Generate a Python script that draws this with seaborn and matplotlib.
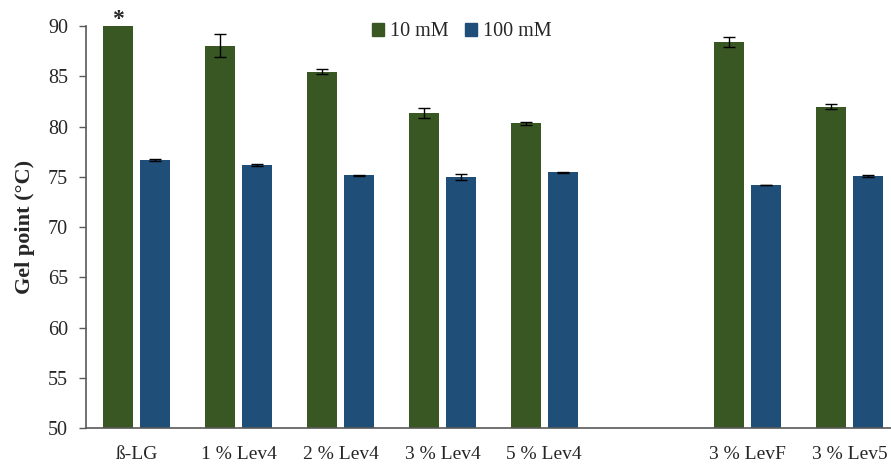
import numpy as np
import pandas as pd
import matplotlib
matplotlib.use("Agg")
import matplotlib.pyplot as plt
import seaborn as sns

# --- data ---
categories = ["ß-LG", "1 % Lev4", "2 % Lev4", "3 % Lev4", "5 % Lev4", "3 % LevF", "3 % Lev5"]
slots = ["ß-LG", "1 % Lev4", "2 % Lev4", "3 % Lev4", "5 % Lev4", "", "3 % LevF", "3 % Lev5"]
series = ["10 mM", "100 mM"]
gel_10 = [90.0, 88.05, 85.47, 81.35, 80.35, 88.4, 81.95]
err_10 = [0.0, 1.15, 0.28, 0.5, 0.15, 0.5, 0.25]
gel_100 = [76.7, 76.2, 75.17, 74.97, 75.47, 74.2, 75.12]
err_100 = [0.08, 0.08, 0.05, 0.3, 0.05, 0.03, 0.1]
colors = ["#385723", "#1F4E79"]

df = pd.DataFrame({
    "sample": categories * 2,
    "conc": [series[0]] * len(categories) + [series[1]] * len(categories),
    "gel": gel_10 + gel_100,
    "err": err_10 + err_100,
})

sns.set_style("white")
plt.rcParams["font.family"] = ["Liberation Serif", "DejaVu Serif"]

fig = plt.figure(figsize=(8.91, 4.65), dpi=100)
ax = fig.add_axes([86 / 891, 1 - 428.3 / 465, 814.6 / 891, 402.3 / 465])

sns.barplot(data=df, x="sample", y="gel", hue="conc", order=slots, hue_order=series,
            palette=colors, saturation=1, width=0.728, gap=0.19, errorbar=None,
            linewidth=0, legend=False, ax=ax)

# error bars on top of every bar
for cont, name in zip(ax.containers, series):
    sub = df[df["conc"] == name].set_index("sample")
    for p in cont.patches:
        xc = p.get_x() + p.get_width() / 2
        lab = slots[int(round(xc))]
        e = sub.loc[lab, "err"]
        if e > 0:
            ax.errorbar(xc, p.get_height(), yerr=e, fmt="none", ecolor="black",
                        elinewidth=1, capsize=4.5, capthick=1)
        if name == "10 mM" and lab == "ß-LG":
            # significance mark above the first bar
            ax.text(xc, p.get_height() + 0.05, "*", ha="center", va="baseline",
                    fontsize=17, fontweight="bold", clip_on=False)

ax.set_ylim(50, 90)
ax.set_xlim(-0.5, len(slots) - 0.5)
ax.set_yticks(np.arange(50, 91, 5))
ax.set_xlabel("")
ax.set_ylabel("Gel point (°C)", fontsize=16, fontweight="bold", labelpad=9)

for s in ["top", "right"]:
    ax.spines[s].set_visible(False)
for s in ["left", "bottom"]:
    ax.spines[s].set_color("#595959")
    ax.spines[s].set_linewidth(1.2)

ax.tick_params(axis="y", length=5, width=1, color="#595959", direction="out",
               labelsize=14.5, pad=8, left=True)
ax.tick_params(axis="x", length=0, labelsize=14, pad=13)

handles = [plt.Rectangle((0, 0), 1, 1, color=c) for c in colors]
fig.legend(handles, series, loc="center", bbox_to_anchor=(462 / 891, 1 - 32 / 465),
           ncol=2, frameon=False, fontsize=14.5, handlelength=0.6, handleheight=0.6,
           handletextpad=0.3, columnspacing=0.8)

fig.savefig("out.png", dpi=100)
